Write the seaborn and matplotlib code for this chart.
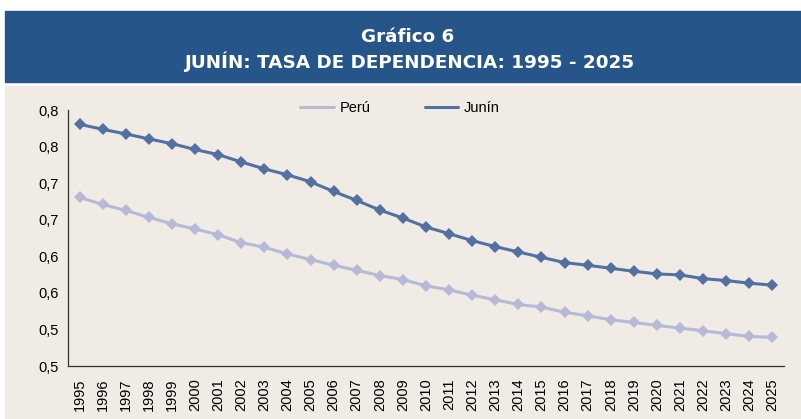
import matplotlib
matplotlib.use("Agg")
import matplotlib.pyplot as plt
import seaborn as sns
import numpy as np
import pandas as pd
from matplotlib.patches import Rectangle
from matplotlib.ticker import FixedLocator

years = list(range(1995, 2026))
peru = [0.7305, 0.7209, 0.7127, 0.7032, 0.6945, 0.6873, 0.6795, 0.6686, 0.6623, 0.6532,
        0.6455, 0.6377, 0.6309, 0.6236, 0.6182, 0.6095, 0.6041, 0.5968, 0.5905, 0.5841,
        0.5805, 0.5736, 0.5686, 0.5632, 0.5595, 0.5555, 0.5518, 0.5482, 0.5441, 0.5405,
        0.5391]
junin = [0.8305, 0.8236, 0.8173, 0.8105, 0.8040, 0.7960, 0.7890, 0.7790, 0.7695, 0.7614,
         0.7518, 0.7386, 0.7264, 0.7132, 0.7023, 0.6900, 0.6809, 0.6714, 0.6632, 0.6559,
         0.6486, 0.6414, 0.6377, 0.6336, 0.6295, 0.6259, 0.6245, 0.6195, 0.6168, 0.6132,
         0.6105]
y_ticks = [0.5, 0.55, 0.6, 0.65, 0.7, 0.75, 0.8, 0.85]
y_ticklabels = ["0,5", "0,5", "0,6", "0,6", "0,7", "0,7", "0,8", "0,8"]

df = pd.concat([
    pd.DataFrame({"year": years, "valor": peru, "serie": "Perú"}),
    pd.DataFrame({"year": years, "valor": junin, "serie": "Junín"}),
], ignore_index=True)

sns.set_style("white")
plt.rcParams["font.family"] = ["Liberation Sans", "DejaVu Sans"]

bg = "#F0EBE4"
fig = plt.figure(figsize=(8.01, 4.19), dpi=100)
fig.patch.set_facecolor("white")
fig.patches.append(Rectangle((5 / 801, 1 - 82 / 419), 796 / 801, 71 / 419,
                             transform=fig.transFigure, color="#26558A", zorder=-2))
fig.patches.append(Rectangle((5 / 801, 0), 796 / 801, 1 - 86 / 419,
                             transform=fig.transFigure, color=bg, zorder=-2))
fig.text(408 / 801, 1 - 37 / 419, "Gráfico 6", color="white", fontsize=13.2,
         fontweight="bold", ha="center", va="center", family="DejaVu Sans")
fig.text(409 / 801, 1 - 62 / 419, "JUNÍN: TASA DE DEPENDENCIA: 1995 - 2025", color="white",
         fontsize=13.2, fontweight="bold", ha="center", va="center", family="DejaVu Sans")

ax = fig.add_axes([68 / 801, 1 - 366 / 419, 716 / 801, 256 / 419])
ax.patch.set_alpha(0)

sns.lineplot(data=df, x="year", y="valor", hue="serie",
             palette={"Perú": "#B6BAD7", "Junín": "#5271A1"},
             marker="D", markersize=6.5, markeredgewidth=0, linewidth=2.2, ax=ax)

ax.set_xlim(1994.5, 2025.5)
ax.set_ylim(0.5, 0.85)
ax.set_xticks(years)
ax.set_xticklabels([str(y) for y in years], rotation=90, fontsize=10.5)
ax.xaxis.set_minor_locator(FixedLocator(np.arange(1994.5, 2026, 1)))
ax.tick_params(axis="x", which="major", length=0, pad=9, labelcolor="black")
ax.tick_params(axis="x", which="minor", length=4, width=0.8, direction="out", color="#333333")
ax.set_yticks(y_ticks)
ax.set_yticklabels(y_ticklabels)
ax.tick_params(axis="y", length=4, width=0.8, direction="out", labelsize=10.5,
               color="#333333", labelcolor="black", pad=3)
for s in ["top", "right"]:
    ax.spines[s].set_visible(False)
for s in ["left", "bottom"]:
    ax.spines[s].set_color("#333333")
    ax.spines[s].set_linewidth(0.9)
ax.set_xlabel("")
ax.set_ylabel("")

leg = ax.legend(loc="center", bbox_to_anchor=(400 / 801, 1 - 108 / 419),
                bbox_transform=fig.transFigure, ncol=2, frameon=False,
                fontsize=10.5, handlelength=2.3, handletextpad=0.4, columnspacing=3.7,
                markerscale=0)
for t in leg.get_texts():
    t.set_color("black")

fig.savefig("out.png", dpi=100, facecolor=fig.get_facecolor())
